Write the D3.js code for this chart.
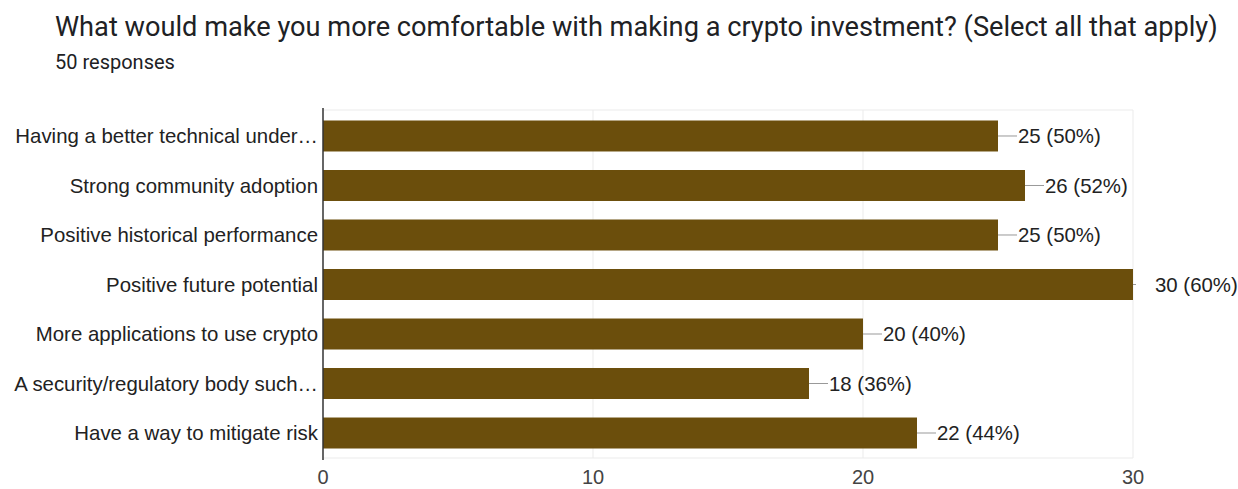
<!DOCTYPE html>
<html>
<head>
<meta charset="utf-8">
<script src="https://cdn.jsdelivr.net/npm/d3@7"></script>
<style>
  body { margin: 0; background: #fff; }
  svg { font-family: "Liberation Sans", Arial, sans-serif; }
</style>
</head>
<body>
<div id="chart"></div>
<script>
const categories = [
  'Having a better technical under…',
  'Strong community adoption',
  'Positive historical performance',
  'Positive future potential',
  'More applications to use crypto',
  'A security/regulatory body such…',
  'Have a way to mitigate risk'
];
const counts = [25, 26, 25, 30, 20, 18, 22];
const percents = ['50%', '52%', '50%', '60%', '40%', '36%', '44%'];
const xTicks = [0, 10, 20, 30];

const width = 1238, height = 489;
const svg = d3.select('#chart').append('svg')
  .attr('width', width)
  .attr('height', height);

// title
svg.append('text')
  .attr('x', 55).attr('y', 36)
  .attr('font-family', 'Roboto, Arial, sans-serif')
  .attr('font-size', 27.2)
  .attr('fill', '#202124')
  .text('What would make you more comfortable with making a crypto investment? (Select all that apply)');

svg.append('text')
  .attr('x', 55).attr('y', 69)
  .attr('font-family', 'Roboto, Arial, sans-serif')
  .attr('font-size', 20)
  .attr('fill', '#202124')
  .text('50 responses');

const x = d3.scaleLinear().domain([0, 30]).range([323, 1133]);
const y = d3.scaleBand().domain(categories).range([110, 459])
  .paddingInner(0.374).paddingOuter(0.212);

// gridlines
svg.append('g')
  .selectAll('line')
  .data(xTicks.slice(1))
  .enter().append('line')
  .attr('x1', d => x(d)).attr('x2', d => x(d))
  .attr('y1', 110).attr('y2', 458)
  .attr('stroke', '#ebebeb');

svg.append('line')
  .attr('x1', x(0)).attr('x2', x(30))
  .attr('y1', 110).attr('y2', 110)
  .attr('stroke', '#ebebeb');
svg.append('line')
  .attr('x1', x(0)).attr('x2', x(30))
  .attr('y1', 458).attr('y2', 458)
  .attr('stroke', '#ebebeb');

// bars
svg.append('g')
  .selectAll('rect')
  .data(categories)
  .enter().append('rect')
  .attr('x', x(0))
  .attr('y', d => y(d))
  .attr('width', (d, i) => x(counts[i]) - x(0))
  .attr('height', y.bandwidth())
  .attr('fill', '#6b4e0c');

// axis line
svg.append('line')
  .attr('x1', x(0)).attr('x2', x(0))
  .attr('y1', 108).attr('y2', 460)
  .attr('stroke', '#333')
  .attr('stroke-width', 1.5);

// category labels
svg.append('g')
  .selectAll('text')
  .data(categories)
  .enter().append('text')
  .attr('x', 318)
  .attr('y', d => y(d) + y.bandwidth() / 2)
  .attr('dy', '0.36em')
  .attr('text-anchor', 'end')
  .attr('font-size', 20.4)
  .attr('fill', '#222')
  .text(d => d);

// value leaders and labels
const lab = svg.append('g');
categories.forEach((c, i) => {
  const xe = x(counts[i]);
  const cy = y(c) + y.bandwidth() / 2;
  const top = counts[i] === 30;
  lab.append('line')
    .attr('x1', xe).attr('x2', xe + (top ? 3 : 19))
    .attr('y1', cy).attr('y2', cy)
    .attr('stroke', '#999');
  lab.append('text')
    .attr('x', top ? xe + 22 : xe + 20)
    .attr('y', cy)
    .attr('dy', '0.36em')
    .attr('font-size', 20.4)
    .attr('fill', '#222')
    .text(`${counts[i]} (${percents[i]})`);
});

// x tick labels
svg.append('g')
  .selectAll('text')
  .data(xTicks)
  .enter().append('text')
  .attr('x', d => x(d))
  .attr('y', 484)
  .attr('text-anchor', 'middle')
  .attr('font-size', 20)
  .attr('fill', '#444')
  .text(d => d);
</script>
</body>
</html>
